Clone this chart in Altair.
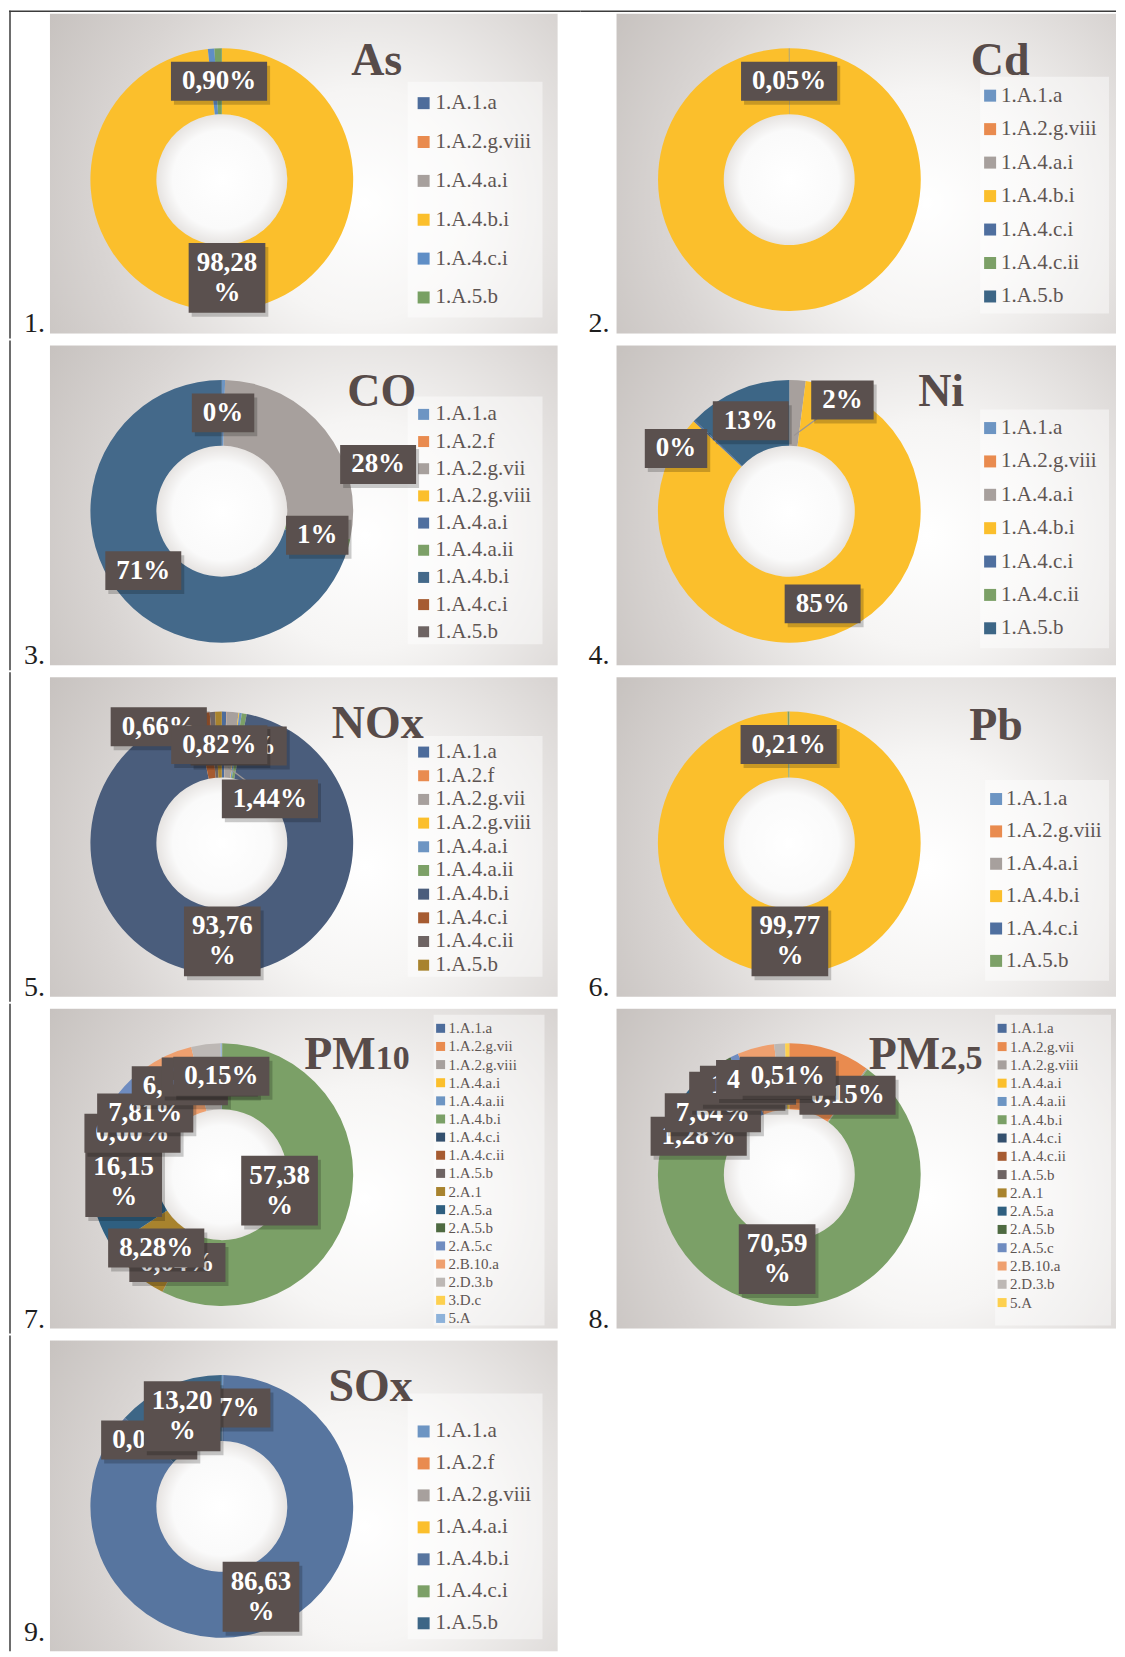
import altair as alt
import pandas as pd

# ---------------- data ----------------
AS_CATS = ["1.A.1.a", "1.A.2.g.viii", "1.A.4.a.i", "1.A.4.b.i", "1.A.4.c.i", "1.A.5.b"]
AS_VALS = [0.02, 0.00, 0.00, 98.28, 0.80, 0.90]
AS_COLORS = ["#4D6C9B", "#E98B4F", "#A7A09D", "#FBBF2C", "#5F8EC6", "#78A063"]
AS_LABELS = {"1.A.4.b.i": "98,28\n%", "1.A.5.b": "0,90%"}

CD_CATS = ["1.A.1.a", "1.A.2.g.viii", "1.A.4.a.i", "1.A.4.b.i", "1.A.4.c.i", "1.A.4.c.ii", "1.A.5.b"]
CD_VALS = [0.00, 0.00, 0.00, 99.95, 0.00, 0.00, 0.05]
CD_COLORS = ["#6D95C3", "#E98B4F", "#A7A09D", "#FBBF2C", "#4F6F9F", "#7CA067", "#3D6686"]
CD_LABELS = {"1.A.5.b": "0,05%"}

CO_CATS = ["1.A.1.a", "1.A.2.f", "1.A.2.g.vii", "1.A.2.g.viii", "1.A.4.a.i", "1.A.4.a.ii",
           "1.A.4.b.i", "1.A.4.c.i", "1.A.5.b"]
CO_VALS = [0.40, 0.00, 28.00, 0.00, 0.00, 1.00, 70.60, 0.00, 0.00]
CO_COLORS = ["#6D95C3", "#E98B4F", "#A7A09D", "#FBBF2C", "#50709F", "#7CA067", "#44698A", "#A65B31", "#6E6463"]
CO_LABELS = {"1.A.1.a": "0%", "1.A.2.g.vii": "28%", "1.A.4.a.ii": "1%", "1.A.4.b.i": "71%"}

NI_CATS = ["1.A.1.a", "1.A.2.g.viii", "1.A.4.a.i", "1.A.4.b.i", "1.A.4.c.i", "1.A.4.c.ii", "1.A.5.b"]
NI_VALS = [0.00, 0.00, 2.00, 85.00, 0.20, 0.00, 12.80]
NI_COLORS = ["#6D95C3", "#E98B4F", "#A7A09D", "#FBBF2C", "#4F6F9F", "#7CA067", "#3D6686"]
NI_LABELS = {"1.A.4.a.i": "2%", "1.A.4.b.i": "85%", "1.A.4.c.i": "0%", "1.A.5.b": "13%"}

NOX_CATS = ["1.A.1.a", "1.A.2.f", "1.A.2.g.vii", "1.A.2.g.viii", "1.A.4.a.i", "1.A.4.a.ii",
            "1.A.4.b.i", "1.A.4.c.i", "1.A.4.c.ii", "1.A.5.b"]
NOX_VALS = [0.55, 0.05, 1.44, 0.10, 0.30, 0.60, 93.76, 1.72, 0.66, 0.82]
NOX_COLORS = ["#4D6C9B", "#E98B4F", "#A7A09D", "#FBBF2C", "#6D95C3", "#7CA067", "#4A5D7C",
              "#A65B31", "#6E6463", "#A8832E"]
NOX_LABELS = {"1.A.2.g.vii": "1,44%", "1.A.4.a.ii": "0,60%", "1.A.4.b.i": "93,76\n%",
              "1.A.4.c.ii": "0,66%", "1.A.5.b": "0,82%"}

PB_CATS = ["1.A.1.a", "1.A.2.g.viii", "1.A.4.a.i", "1.A.4.b.i", "1.A.4.c.i", "1.A.5.b"]
PB_VALS = [0.01, 0.00, 0.01, 99.77, 0.00, 0.21]
PB_COLORS = ["#6D95C3", "#E98B4F", "#A7A09D", "#FBBF2C", "#4F6F9F", "#7CA067"]
PB_LABELS = {"1.A.4.b.i": "99,77\n%", "1.A.5.b": "0,21%"}

PM10_CATS = ["1.A.1.a", "1.A.2.g.vii", "1.A.2.g.viii", "1.A.4.a.i", "1.A.4.a.ii", "1.A.4.b.i",
             "1.A.4.c.i", "1.A.4.c.ii", "1.A.5.b", "2.A.1", "2.A.5.a", "2.A.5.b", "2.A.5.c",
             "2.B.10.a", "2.D.3.b", "3.D.c", "5.A"]
PM10_VALS = [0.00, 0.05, 0.00, 0.00, 0.00, 57.38, 0.00, 0.00, 0.04, 8.28, 16.15, 0.00, 7.81,
             6.55, 3.59, 0.00, 0.15]
PM10_COLORS = ["#4D6C9B", "#E98B4F", "#A7A09D", "#FBBF2C", "#6D95C3", "#7BA067", "#34506E",
               "#A65B31", "#6E6463", "#A8832E", "#2F5F80", "#4E6A41", "#6F8CC0", "#EFA06F",
               "#BDB8B5", "#FDD04F", "#8DB2DA"]
PM10_LABELS = {"1.A.4.b.i": "57,38\n%", "1.A.5.b": "0,04%", "2.A.1": "8,28%", "2.A.5.a": "16,15\n%",
               "2.A.5.b": "0,00%", "2.A.5.c": "7,81%", "2.B.10.a": "6,55%", "2.D.3.b": "3,59%",
               "5.A": "0,15%"}

PM25_CATS = ["1.A.1.a", "1.A.2.g.vii", "1.A.2.g.viii", "1.A.4.a.i", "1.A.4.a.ii", "1.A.4.b.i",
             "1.A.4.c.i", "1.A.4.c.ii", "1.A.5.b", "2.A.1", "2.A.5.a", "2.A.5.b", "2.A.5.c",
             "2.B.10.a", "2.D.3.b", "5.A"]
PM25_VALS = [0.00, 10.00, 0.15, 0.00, 0.00, 70.59, 0.00, 0.00, 0.00, 1.28, 7.64, 2.95, 1.00,
             4.55, 1.33, 0.51]
PM25_COLORS = ["#4D6C9B", "#E98B4F", "#A7A09D", "#FBBF2C", "#6D95C3", "#7BA067", "#34506E",
               "#A65B31", "#6E6463", "#A8832E", "#2F5F80", "#4E6A41", "#6F8CC0", "#EFA06F",
               "#BDB8B5", "#FDD04F"]
PM25_LABELS = {"1.A.2.g.viii": "0,15%", "1.A.4.b.i": "70,59\n%", "2.A.1": "1,28%", "2.A.5.a": "7,64%",
               "2.A.5.b": "2,95%", "2.A.5.c": "1,00%", "2.B.10.a": "4,55%", "5.A": "0,51%"}

SOX_CATS = ["1.A.1.a", "1.A.2.f", "1.A.2.g.viii", "1.A.4.a.i", "1.A.4.b.i", "1.A.4.c.i", "1.A.5.b"]
SOX_VALS = [0.17, 0.00, 0.00, 0.00, 86.63, 0.00, 13.20]
SOX_COLORS = ["#6D95C3", "#E98B4F", "#A7A09D", "#FBBF2C", "#57759F", "#7CA067", "#3D6686"]
SOX_LABELS = {"1.A.1.a": "0,17%", "1.A.4.b.i": "86,63\n%", "1.A.4.c.i": "0,00%", "1.A.5.b": "13,20\n%"}

# ---------------- layout / style ----------------
SERIF = "Liberation Serif"
TITLE_C = "#574B49"
LEG_C = "#5E5553"
BOX_C = "#5A504E"
FRAME_C = "#3C3C3C"
LEADER_C = "#9C9694"

COL_W = [572, 536]
ROW_H = [330, 330, 330, 330, 316]
CX = [213, 209]
CY = 171
GREY_X = [(41, 549), (36, 536)]
R_OUT, R_IN, R_LAB, R_LEAD = 131.5, 65.5, 98.5, 76
NUM_X = [15, 8]
LINE_H = 30

BG_GRAD = {"gradient": "radial", "x1": 0.62, "y1": 0.56, "r1": 0, "x2": 0.62, "y2": 0.56, "r2": 0.75,
           "stops": [{"offset": 0, "color": "#FFFFFF"}, {"offset": 0.3, "color": "#F6F5F4"},
                     {"offset": 0.7, "color": "#D8D4D2"}, {"offset": 1, "color": "#C5C0BD"}]}
HOLE_GRAD = {"gradient": "radial", "x1": 0.5, "y1": 0.5, "r1": 0, "x2": 0.5, "y2": 0.5, "r2": 0.5,
             "stops": [{"offset": 0, "color": "#FFFFFF"}, {"offset": 0.75, "color": "#FAFAFA"},
                       {"offset": 1, "color": "#E6E3E1"}]}

# legend: (square centre x, text x, first row y, row pitch, font size, square side)
PANELS = [
    dict(key="As", num=1, cats=AS_CATS, vals=AS_VALS, colors=AS_COLORS, labels=AS_LABELS,
         title=[("As", 46, "center")], tx=368, ty=66, leg=(415, 427, 94.5, 38.9, 21, 12),
         legbox=(399, 534, 73, 309)),
    dict(key="Cd", num=2, cats=CD_CATS, vals=CD_VALS, colors=CD_COLORS, labels=CD_LABELS,
         title=[("Cd", 46, "center")], tx=420, ty=66, leg=(410, 421, 87, 33.5, 21, 12),
         legbox=(400, 529, 68, 305)),
    dict(key="CO", num=3, cats=CO_CATS, vals=CO_VALS, colors=CO_COLORS, labels=CO_LABELS,
         title=[("CO", 46, "center")], tx=373, ty=66, leg=(415, 427, 74, 27.2, 21, 11),
         legbox=(399, 534, 56, 304)),
    dict(key="Ni", num=4, cats=NI_CATS, vals=NI_VALS, colors=NI_COLORS, labels=NI_LABELS,
         title=[("Ni", 46, "center")], tx=361, ty=66, leg=(410, 421, 87.7, 33.4, 21, 12),
         legbox=(400, 529, 69, 308)),
    dict(key="NOx", num=5, cats=NOX_CATS, vals=NOX_VALS, colors=NOX_COLORS, labels=NOX_LABELS,
         title=[("NOx", 46, "center")], tx=369, ty=66, leg=(415, 427, 80, 23.7, 21, 11),
         legbox=(399, 534, 64, 305)),
    dict(key="Pb", num=6, cats=PB_CATS, vals=PB_VALS, colors=PB_COLORS, labels=PB_LABELS,
         title=[("Pb", 46, "center")], tx=416, ty=68, leg=(416, 426, 127, 32.4, 21, 12),
         legbox=(405, 529, 108, 309)),
    dict(key="PM10", num=7, cats=PM10_CATS, vals=PM10_VALS, colors=PM10_COLORS, labels=PM10_LABELS,
         title=[("PM", 46, "right"), ("10", 34, "left")], tx=367, ty=65,
         leg=(432, 440, 24.5, 18.15, 15, 9), legbox=(425, 536, 11, 322)),
    dict(key="PM2,5", num=8, cats=PM25_CATS, vals=PM25_VALS, colors=PM25_COLORS, labels=PM25_LABELS,
         title=[("PM", 46, "right"), ("2,5", 34, "left")], tx=360, ty=65,
         leg=(422, 430, 24.5, 18.3, 15, 9), legbox=(415, 531, 11, 322)),
    dict(key="SOx", num=9, cats=SOX_CATS, vals=SOX_VALS, colors=SOX_COLORS, labels=SOX_LABELS,
         title=[("SOx", 46, "center")], tx=362, ty=66, leg=(415, 427, 96, 32, 21, 12),
         legbox=(399, 534, 58, 304)),
]

# Excel moved a few labels away from the ring middle (pixel nudges); some got leader lines
NUDGE = {("CO", "1.A.2.g.vii"): (79, 14), ("Ni", "1.A.4.a.i"): (47, -13), ("Ni", "1.A.4.c.i"): (-42, 5),
         ("NOx", "1.A.2.g.vii"): (40, 54), ("NOx", "1.A.4.c.ii"): (-56, -18),
         ("PM10", "1.A.4.b.i"): (-38, -7), ("PM2,5", "1.A.4.b.i"): (-40, -10)}
LEADERS = {("Ni", "1.A.4.a.i"), ("NOx", "1.A.2.g.vii")}


def label_layers(df, key, cat, cx, cy, xs, ys):
    dx, dy = NUDGE.get((key, cat), (0, 0))
    base = (alt.Chart(df)
            .transform_window(cum="sum(val)", sort=[alt.SortField("idx", order="ascending")], frame=[None, 0])
            .transform_joinaggregate(tot="sum(val)")
            .transform_filter(f"datum.cat == '{cat}'")
            .transform_calculate(mid="2*PI*(datum.cum - datum.val/2)/datum.tot")
            .transform_calculate(lx=f"{cx} + {R_LAB}*sin(datum.mid) + ({dx})")
            .transform_calculate(ly=f"{cy} - {R_LAB}*cos(datum.mid) + ({dy})")
            .transform_calculate(px=f"{cx} + {R_LEAD}*sin(datum.mid)")
            .transform_calculate(py=f"{cy} - {R_LEAD}*cos(datum.mid)")
            .transform_calculate(l1="split(datum.lab, '\\n')[0]")
            .transform_calculate(nl="length(split(datum.lab, '\\n'))")
            .transform_calculate(ty=f"datum.ly - (datum.nl - 1)*{LINE_H}/2")
            .transform_calculate(bw="13.5*length(datum.l1) + (indexof(datum.l1, '%') >= 0 ? 13.5 : 0)"
                                    " - (indexof(datum.l1, ',') >= 0 ? 6.75 : 0) + (datum.nl > 1 ? 16 : 22)")
            .transform_calculate(bh="datum.nl > 1 ? 70 : 39")
            .transform_calculate(bx1="datum.lx - datum.bw/2")
            .transform_calculate(bx2="datum.lx + datum.bw/2")
            .transform_calculate(by1="datum.ly - datum.bh/2")
            .transform_calculate(by2="datum.ly + datum.bh/2")
            .transform_calculate(sx1="datum.bx1 + 3")
            .transform_calculate(sx2="datum.bx2 + 3")
            .transform_calculate(sy1="datum.by1 + 4")
            .transform_calculate(sy2="datum.by2 + 4"))
    out = []
    if (key, cat) in LEADERS:
        out.append(base.mark_rule(color=LEADER_C, strokeWidth=1.3).encode(
            x=alt.X("px:Q", scale=xs, axis=None), x2="lx",
            y=alt.Y("py:Q", scale=ys, axis=None), y2="ly"))
    out.append(base.mark_rect(color="#000000", opacity=0.2).encode(
        x=alt.X("sx1:Q", scale=xs, axis=None), x2="sx2",
        y=alt.Y("sy1:Q", scale=ys, axis=None), y2="sy2"))
    out.append(base.mark_rect(color=BOX_C).encode(
        x=alt.X("bx1:Q", scale=xs, axis=None), x2="bx2",
        y=alt.Y("by1:Q", scale=ys, axis=None), y2="by2"))
    out.append(base.mark_text(font=SERIF, fontWeight="bold", fontSize=27, color="#FFFFFF",
                              lineBreak="\n", lineHeight=LINE_H, align="center", baseline="middle").encode(
        x=alt.X("lx:Q", scale=xs, axis=None), y=alt.Y("ty:Q", scale=ys, axis=None), text="lab:N"))
    return out


def make_panel(p, row, col):
    W = COL_W[col]
    H = ROW_H[row]
    cx, cy = CX[col], CY
    cats = p["cats"]
    df = pd.DataFrame({"cat": cats, "val": p["vals"], "idx": list(range(len(cats))),
                       "lab": [p["labels"].get(c, "") for c in cats]})
    xs = alt.Scale(domain=[0, W], range=[0, W], nice=False, zero=False)
    ys = alt.Scale(domain=[0, H], range=[0, H], nice=False, zero=False)
    cs = alt.Scale(domain=cats, range=p["colors"])
    one = pd.DataFrame({"k": [0]})
    L = []
    gx0, gx1 = GREY_X[col]
    L.append(alt.Chart(one).mark_rect(fill=BG_GRAD).encode(
        x=alt.value(gx0), x2=alt.value(gx1), y=alt.value(5), y2=alt.value(min(325, H))))
    lb = p["legbox"]
    L.append(alt.Chart(one).mark_rect(fill="#FFFFFF", fillOpacity=0.45).encode(
        x=alt.value(lb[0]), x2=alt.value(lb[1]), y=alt.value(lb[2]), y2=alt.value(lb[3])))
    L.append(alt.Chart(one).mark_arc(theta=0, theta2=6.2832, innerRadius=0, outerRadius=R_IN,
                                     fill=HOLE_GRAD).encode(x=alt.value(cx), y=alt.value(cy)))
    L.append(alt.Chart(df).mark_arc(innerRadius=R_IN, outerRadius=R_OUT).encode(
        theta=alt.Theta("val:Q", stack=True),
        order=alt.Order("idx:Q"),
        color=alt.Color("cat:N", scale=cs, legend=None),
        x=alt.value(cx), y=alt.value(cy)))
    # legend
    sqx, tx, y0, pitch, fs, side = p["leg"]
    leg = alt.Chart(df).transform_calculate(ly=f"{y0} + datum.idx*{pitch}")
    L.append(leg.mark_square(size=side * side, opacity=1).encode(
        x=alt.value(sqx), y=alt.Y("ly:Q", scale=ys, axis=None),
        color=alt.Color("cat:N", scale=cs, legend=None)))
    L.append(leg.mark_text(align="left", baseline="middle", font=SERIF, fontSize=fs, color=LEG_C).encode(
        x=alt.value(tx), y=alt.Y("ly:Q", scale=ys, axis=None), text="cat:N"))
    # title
    for txt, size, al in p["title"]:
        L.append(alt.Chart(one).mark_text(text=txt, font=SERIF, fontWeight="bold", fontSize=size,
                                          color=TITLE_C, align=al, baseline="alphabetic").encode(
            x=alt.value(p["tx"]), y=alt.value(p["ty"])))
    # panel number
    num_y = 324 if row < 4 else 306
    L.append(alt.Chart(one).mark_text(text=f"{p['num']}.", font=SERIF, fontSize=28, color="#1E1E1E",
                                      align="left", baseline="alphabetic").encode(
        x=alt.value(NUM_X[col]), y=alt.value(num_y)))
    # table frame
    if col == 0:
        L.append(alt.Chart(one).mark_rule(color=FRAME_C, strokeWidth=1.5).encode(
            x=alt.value(1), y=alt.value(2 if row == 0 else 0), y2=alt.value(H)))
    if row == 0:
        L.append(alt.Chart(one).mark_rule(color=FRAME_C, strokeWidth=1.5).encode(
            x=alt.value(0), x2=alt.value(W), y=alt.value(2.5)))
    # data labels, in series order so later ones cover earlier ones
    for c in cats:
        if c in p["labels"]:
            L.extend(label_layers(df, p["key"], c, cx, cy, xs, ys))
    return alt.layer(*L).properties(width=W, height=H)


rows = []
for r in range(5):
    items = PANELS[2 * r: 2 * r + 2]
    charts = [make_panel(p, r, i) for i, p in enumerate(items)]
    if len(charts) == 2:
        rows.append(alt.hconcat(*charts, spacing=0, bounds="flush").resolve_scale(
            color="independent", theta="independent"))
    else:
        rows.append(charts[0])

chart = (alt.vconcat(*rows, spacing=0, padding=0)
         .resolve_scale(color="independent", theta="independent")
         .configure_view(strokeWidth=0))

chart.save("out.html", embed_options={"renderer": "svg", "actions": False})
